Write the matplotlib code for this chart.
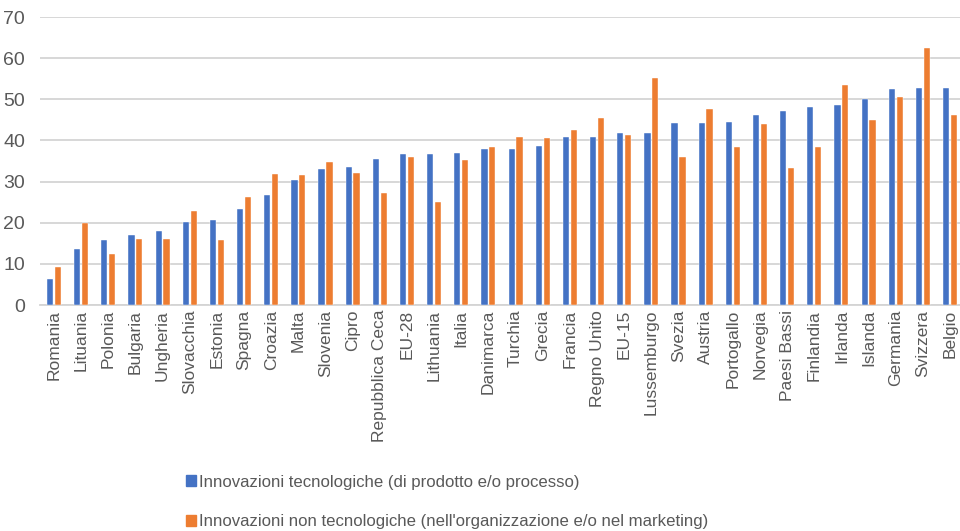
import numpy as np
import matplotlib.pyplot as plt
from matplotlib.patches import Patch

# Paesi e valori (%)
paesi = ["Romania", "Lituania", "Polonia", "Bulgaria", "Ungheria", "Slovacchia",
         "Estonia", "Spagna", "Croazia", "Malta", "Slovenia", "Cipro",
         "Repubblica Ceca", "EU-28", "Lithuania", "Italia", "Danimarca", "Turchia",
         "Grecia", "Francia", "Regno Unito", "EU-15", "Lussemburgo", "Svezia",
         "Austria", "Portogallo", "Norvegia", "Paesi Bassi", "Finlandia", "Irlanda",
         "Islanda", "Germania", "Svizzera", "Belgio"]
tecnologiche = [6.4, 13.7, 15.7, 16.9, 18.1, 20.2, 20.7, 23.3, 26.7, 30.5, 33.0, 33.5,
                35.6, 36.6, 36.6, 36.9, 37.9, 37.9, 38.6, 40.8, 40.8, 41.7, 41.9, 44.2,
                44.2, 44.6, 46.1, 47.2, 48.2, 48.7, 50.0, 52.5, 52.7, 52.7]
non_tecnologiche = [9.3, 19.9, 12.3, 16.1, 16.1, 22.9, 15.8, 26.2, 31.9, 31.6, 34.8, 32.1,
                    27.2, 35.9, 25.1, 35.2, 38.3, 40.8, 40.6, 42.5, 45.5, 41.2, 55.1, 36.0,
                    47.6, 38.4, 43.9, 33.2, 38.4, 53.4, 44.9, 50.6, 62.5, 46.1]

blu = "#4472c4"
arancio = "#ed7d31"
grigio = "#595959"

plt.rcParams['font.family'] = ['Liberation Sans', 'DejaVu Sans']

fig = plt.figure(figsize=(9.6, 5.31), dpi=100)
ax = fig.add_axes([40.4 / 960, 1 - 305 / 531, 923.2 / 960, 288 / 531])

x = np.arange(len(paesi))
w = 0.23
ax.bar(x - 0.145, tecnologiche, w, color=blu, edgecolor="white", linewidth=0.3, zorder=3)
ax.bar(x + 0.145, non_tecnologiche, w, color=arancio, edgecolor="white", linewidth=0.3, zorder=3)

ax.set_xlim(-0.5, len(paesi) - 0.5)
ax.set_ylim(0, 70)
ax.set_yticks(range(0, 71, 10))
ax.yaxis.grid(True, color="#d4d4d4", linewidth=1.3, zorder=0)
ax.set_axisbelow(True)
for s in ["top", "right", "left"]:
    ax.spines[s].set_visible(False)
ax.spines["bottom"].set_color("#d4d4d4")
ax.spines["bottom"].set_linewidth(1.3)
ax.tick_params(axis="both", length=0, colors=grigio, labelsize=12.5)
ax.tick_params(axis="y", labelsize=14, pad=11)
ax.set_xticks(x)
ax.set_xticklabels(paesi, rotation=90, va="top", ha="center")

handles = [Patch(color=blu), Patch(color=arancio)]
labels = ["Innovazioni tecnologiche (di prodotto e/o processo)",
          "Innovazioni non tecnologiche (nell'organizzazione e/o nel marketing)"]
leg = fig.legend(handles, labels, loc="upper left", bbox_to_anchor=(179 / 960, 1 - 468 / 531),
                 frameon=False, fontsize=12.1, handlelength=0.6, handleheight=0.6,
                 handletextpad=0.2, labelspacing=1.45, borderaxespad=0)
for t in leg.get_texts():
    t.set_color(grigio)

fig.savefig("out.png", dpi=100)
